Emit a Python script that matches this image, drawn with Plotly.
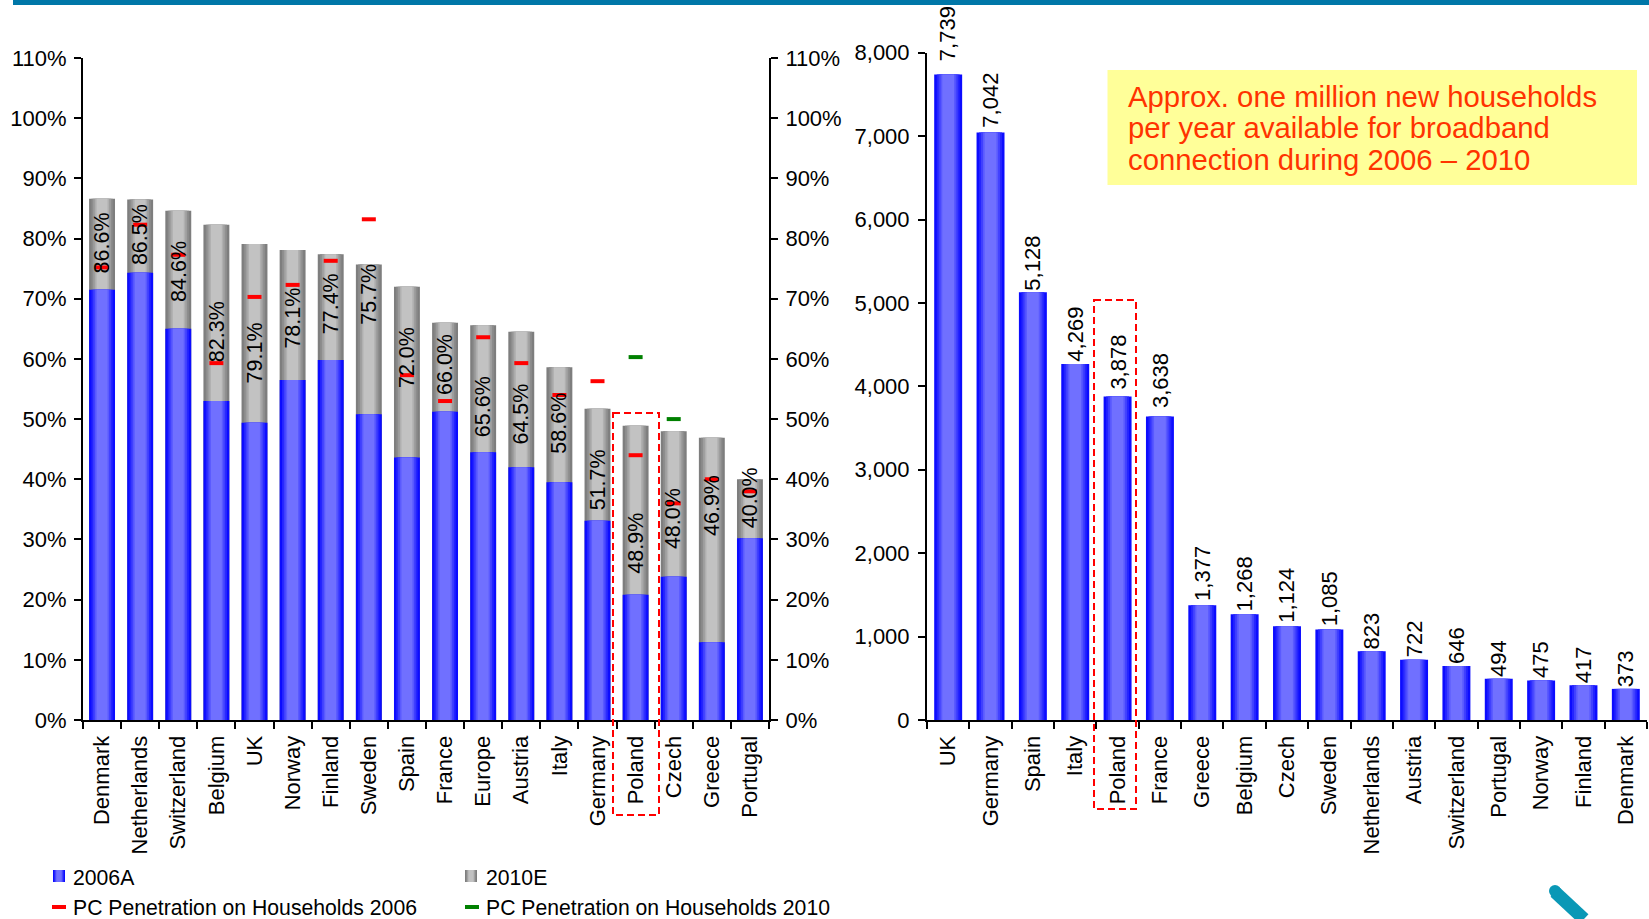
import plotly.graph_objects as go

W, H = 1649, 919
FONT = "Liberation Sans"

# Left panel: broadband penetration by country
pen_countries = ["Denmark", "Netherlands", "Switzerland", "Belgium", "UK", "Norway", "Finland",
                 "Sweden", "Spain", "France", "Europe", "Austria", "Italy", "Germany", "Poland",
                 "Czech", "Greece", "Portugal"]
pen_2006 = [71.5, 74.3, 65.0, 53.0, 49.4, 56.5, 59.8, 50.8, 43.6, 51.2, 44.5, 42.0, 39.5, 33.1,
            20.8, 23.8, 12.9, 30.2]
pen_2010 = [86.6, 86.5, 84.6, 82.3, 79.1, 78.1, 77.4, 75.7, 72.0, 66.0, 65.6, 64.5, 58.6, 51.7,
            48.9, 48.0, 46.9, 40.0]
pc_2006 = [75.2, 82.3, 77.3, 59.3, 70.3, 72.3, 76.3, 83.2, 57.3, 53.0, 63.6, 59.3, 54.0, 56.3,
           44.0, 36.0, 40.0, 38.0]
pc_2010_countries = ["Poland", "Czech"]
pc_2010 = [60.3, 50.0]
pen_label_y = [79.2, 80.6, 74.5, 64.5, 61.0, 66.8, 69.2, 70.8, 60.3, 59.0, 52.0, 50.8, 49.3, 39.9,
               29.4, 33.5, 35.7, 37.0]

# Right panel: households by country (thousands)
hh_countries = ["UK", "Germany", "Spain", "Italy", "Poland", "France", "Greece", "Belgium", "Czech",
                "Sweden", "Netherlands", "Austria", "Switzerland", "Portugal", "Norway", "Finland",
                "Denmark"]
hh_values = [7739, 7042, 5128, 4269, 3878, 3638, 1377, 1268, 1124, 1085, 823, 722, 646, 494, 475,
             417, 373]
hh_label_gap = [14, 6, 3, 3, 8, 10, 5, 4, 4, 4, 3, 3, 3, 3, 3, 3, 3]

callout_lines = ["Approx. one million new households", "per year available for broadband",
                 "connection during 2006 \u2013 2010"]

# Nested bars of shrinking width give each column its horizontal shading
BLUES = ["#0C0CFF", "#2424FF", "#4040FF", "#5A5AFF", "#7070FF"]
GREYS = ["#7E7E7E", "#8C8C8C", "#9E9E9E", "#B0B0B0", "#C2C2C2"]
LAYERS = [1.0, 0.82, 0.68, 0.54, 0.42]
PEN_BAR, HH_BAR = 0.68, 0.66


def px(x):
    return x / W


def py(y):
    return 1 - y / H


fig = go.Figure()


def shaded_bars(x, y, palette, base, xaxis, yaxis, name):
    for frac, color in zip(LAYERS, palette):
        fig.add_trace(go.Bar(x=x, y=y, width=base * frac, marker=dict(color=color, line_width=0),
                             xaxis=xaxis, yaxis=yaxis, name=name, showlegend=False,
                             hoverinfo="x+y"))


shaded_bars(pen_countries, pen_2010, GREYS, PEN_BAR, "x", "y", "2010E")
shaded_bars(pen_countries, pen_2006, BLUES, PEN_BAR, "x", "y", "2006A")
shaded_bars(hh_countries, hh_values, BLUES, HH_BAR, "x2", "y3", "Households")

fig.add_trace(go.Scatter(x=pen_countries, y=pc_2006, mode="markers", xaxis="x", yaxis="y2",
                         name="PC Penetration on Households 2006", showlegend=False,
                         marker=dict(symbol="line-ew", size=10, color="#FF0000",
                                     line=dict(color="#FF0000", width=4))))
fig.add_trace(go.Scatter(x=pc_2010_countries, y=pc_2010, mode="markers", xaxis="x", yaxis="y2",
                         name="PC Penetration on Households 2010", showlegend=False,
                         marker=dict(symbol="line-ew", size=10, color="#008000",
                                     line=dict(color="#008000", width=4))))

annotations = []
for c, v, ly in zip(pen_countries, pen_2010, pen_label_y):
    annotations.append(dict(x=c, y=ly, xref="x", yref="y", text=f"{v:.1f}%", textangle=-90,
                            showarrow=False, font=dict(family=FONT, size=21.5, color="#000000")))
for c, v, gap in zip(hh_countries, hh_values, hh_label_gap):
    annotations.append(dict(x=c, y=v, xref="x2", yref="y3", text=f"{v:,}", textangle=-90,
                            showarrow=False, yanchor="bottom", yshift=gap - 3,
                            font=dict(family=FONT, size=22, color="#000000")))

for line, cy in zip(callout_lines, [96, 127.5, 159]):
    annotations.append(dict(x=px(1125.5), y=py(cy), xref="paper", yref="paper", text=line,
                            xanchor="left", yanchor="middle", showarrow=False,
                            font=dict(family=FONT, size=29.3, color="#FF3300")))

for text, x, y in [("2006A", 71, 877), ("2010E", 484, 877),
                   ("PC Penetration on Households 2006", 71, 907.5),
                   ("PC Penetration on Households 2010", 484, 907.5)]:
    annotations.append(dict(x=px(x), y=py(y), xref="paper", yref="paper", text=text,
                            xanchor="left", yanchor="middle", showarrow=False,
                            font=dict(family=FONT, size=21.2, color="#000000")))


def paper_rect(x0, y0, x1, y1, fill, **kw):
    return dict(type="rect", xref="paper", yref="paper", x0=px(x0), x1=px(x1), y0=py(y0), y1=py(y1),
                fillcolor=fill, line_width=0, **kw)


def dashed_box(x0, y0, x1, y1):
    return dict(type="rect", xref="paper", yref="paper", x0=px(x0), x1=px(x1), y0=py(y0), y1=py(y1),
                line=dict(color="#FF0000", width=2, dash="7px,4px"), layer="above")


shapes = [
    paper_rect(13, 0, W, 5, "#0077A8"),
    paper_rect(1107.5, 70, 1637, 185, "#FFFF99", layer="below"),
    dashed_box(613, 413, 659, 815),
    dashed_box(1094, 300, 1136, 809),
    # Corner of the logo
    dict(type="line", xref="paper", yref="paper", x0=px(1555), y0=py(892), x1=px(1584), y1=py(919),
         line=dict(color="#0A98B6", width=13)),
    dict(type="circle", xref="paper", yref="paper", x0=px(1549), x1=px(1561), y0=py(885), y1=py(897),
         fillcolor="#0A98B6", line_width=0),
]

# Legend swatches
for pal, x0 in [(BLUES, 53), (GREYS, 465)]:
    for frac, color in zip(LAYERS, pal):
        half = 6 * frac
        shapes.append(paper_rect(x0 + 6 - half, 870, x0 + 6 + half, 882, color))
shapes.append(paper_rect(52, 905, 66, 909, "#FF0000"))
shapes.append(paper_rect(465, 905, 479, 909, "#008000"))

axis_font = dict(family=FONT, size=22, color="#000000")
y_common = dict(range=[0, 110], tick0=0, dtick=10, ticksuffix="%", showgrid=False, zeroline=False,
                showline=True, linecolor="#000000", linewidth=2, ticks="outside", ticklen=7,
                tickwidth=2, tickcolor="#000000", tickfont=axis_font, ticklabelstandoff=3,
                automargin=False)
x_common = dict(type="category", showgrid=False, showline=True, linecolor="#000000", linewidth=2,
                ticks="outside", ticklen=7, tickwidth=2, tickcolor="#000000", tickson="boundaries",
                tickangle=-90, tickfont=axis_font, ticklabelstandoff=5, zeroline=False,
                automargin=False)

fig.update_layout(
    template="none",
    width=W, height=H, autosize=False, margin=dict(l=0, r=0, t=0, b=0),
    paper_bgcolor="#FFFFFF", plot_bgcolor="rgba(0,0,0,0)", barmode="overlay",
    font=dict(family=FONT), showlegend=False,
    annotations=annotations, shapes=shapes,
    xaxis=dict(domain=[px(83), px(769)], anchor="y", categoryorder="array",
               categoryarray=pen_countries, range=[-0.5, len(pen_countries) - 0.5], **x_common),
    yaxis=dict(domain=[py(720), py(58)], anchor="x", side="left", **y_common),
    yaxis2=dict(domain=[py(720), py(58)], anchor="x", overlaying="y", side="right", **y_common),
    xaxis2=dict(domain=[px(927), px(1647)], anchor="y3", categoryorder="array",
                categoryarray=hh_countries, range=[-0.5, len(hh_countries) - 0.5], **x_common),
    yaxis3=dict(domain=[py(720), py(52.7)], anchor="x2", side="left", range=[0, 8000], dtick=1000,
                tickformat=",d", showgrid=False, zeroline=False, showline=True, linecolor="#000000",
                linewidth=2, ticks="outside", ticklen=7, tickwidth=2, tickcolor="#000000",
                tickfont=axis_font, ticklabelstandoff=4, automargin=False),
)

fig.write_html("out.html")
